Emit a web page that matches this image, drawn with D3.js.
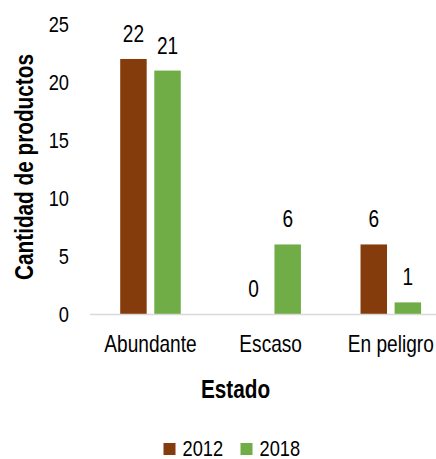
<!DOCTYPE html>
<html>
<head>
<meta charset="utf-8">
<script src="https://cdn.jsdelivr.net/npm/d3@7"></script>
<style>
  body { margin: 0; background: #fff; }
  text { font-family: "Liberation Sans Narrow", "Arial Narrow", "Liberation Sans", Arial, sans-serif; fill: #000; }
</style>
</head>
<body>
<div id="chart"></div>
<script>
// Data
const categories = ['Abundante', 'Escaso', 'En peligro'];
const years = ['2012', '2018'];
const values2012 = [22, 0, 6];
const values2018 = [21, 6, 1];
const yTicks = [0, 5, 10, 15, 20, 25];

const colors = { '2012': '#843C0C', '2018': '#70AD47' };

//Chart dimensions
const width = 436;
const height = 459;
const plot = { left: 90.4, right: 450.9, top: 24.2, bottom: 314 };
// narrow font is not installed, so squeeze regular text horizontally
const squeeze = 0.83;

const rows = categories.map((c, i) => ({ cat: c, '2012': values2012[i], '2018': values2018[i] }));

// Scales
const x0 = d3.scaleBand()
  .domain(categories)
  .range([plot.left, plot.right])
  .paddingInner(0.496)
  .paddingOuter(0.248);

const x1 = d3.scaleBand()
  .domain(years)
  .range([0, x0.bandwidth()])
  .paddingInner(0.223);

const y = d3.scaleLinear()
  .domain([0, 25])
  .range([plot.bottom, plot.top]);

const svg = d3.select('#chart').append('svg')
  .attr('width', width)
  .attr('height', height);

function place(x, yy) {
  return `translate(${x},${yy}) scale(${squeeze},1)`;
}

// Y tick labels (no axis line)
svg.append('g')
  .selectAll('text')
  .data(yTicks)
  .join('text')
  .attr('transform', d => place(69, y(d)))
  .attr('dy', '0.36em')
  .attr('text-anchor', 'end')
  .style('font-size', '22px')
  .text(d => d);

// Bars
const groups = svg.append('g')
  .selectAll('g')
  .data(rows)
  .join('g')
  .attr('transform', d => `translate(${x0(d.cat)},0)`);

groups.selectAll('rect')
  .data(d => years.map(k => ({ key: k, value: d[k] })))
  .join('rect')
  .attr('x', d => x1(d.key))
  .attr('y', d => y(d.value))
  .attr('width', x1.bandwidth())
  .attr('height', d => y(0) - y(d.value))
  .attr('fill', d => colors[d.key]);

// Data labels
groups.selectAll('text')
  .data(d => years.map(k => ({ key: k, value: d[k] })))
  .join('text')
  .attr('transform', d => place(x1(d.key) + x1.bandwidth() / 2, y(d.value) - 17))
  .attr('text-anchor', 'middle')
  .style('font-size', '23px')
  .text(d => d.value);

// Baseline
svg.append('line')
  .attr('x1', 90)
  .attr('x2', width)
  .attr('y1', y(0) + 0.5)
  .attr('y2', y(0) + 0.5)
  .attr('stroke', '#D9D9D9')
  .attr('stroke-width', 1.5);

// Category labels
svg.append('g')
  .selectAll('text')
  .data(categories)
  .join('text')
  .attr('transform', d => place(x0(d) + x0.bandwidth() / 2, 352))
  .attr('text-anchor', 'middle')
  .style('font-size', '23px')
  .text(d => d);

// Axis titles
svg.append('text')
  .attr('transform', place(235.5, 398))
  .attr('text-anchor', 'middle')
  .style('font-size', '25px')
  .style('font-weight', 'bold')
  .text('Estado');

svg.append('text')
  .attr('transform', 'translate(33,167) rotate(-90) scale(' + squeeze + ',1)')
  .attr('text-anchor', 'middle')
  .style('font-size', '25px')
  .style('font-weight', 'bold')
  .text('Cantidad de productos');

// Legend
const legendPos = [163.5, 240.5];
const legend = svg.append('g')
  .selectAll('g')
  .data(years)
  .join('g')
  .attr('transform', (d, i) => `translate(${legendPos[i]},443)`);

legend.append('rect')
  .attr('width', 12)
  .attr('height', 12)
  .attr('fill', d => colors[d]);

legend.append('text')
  .attr('transform', place(19, 12.5))
  .style('font-size', '22px')
  .text(d => d);
</script>
</body>
</html>
